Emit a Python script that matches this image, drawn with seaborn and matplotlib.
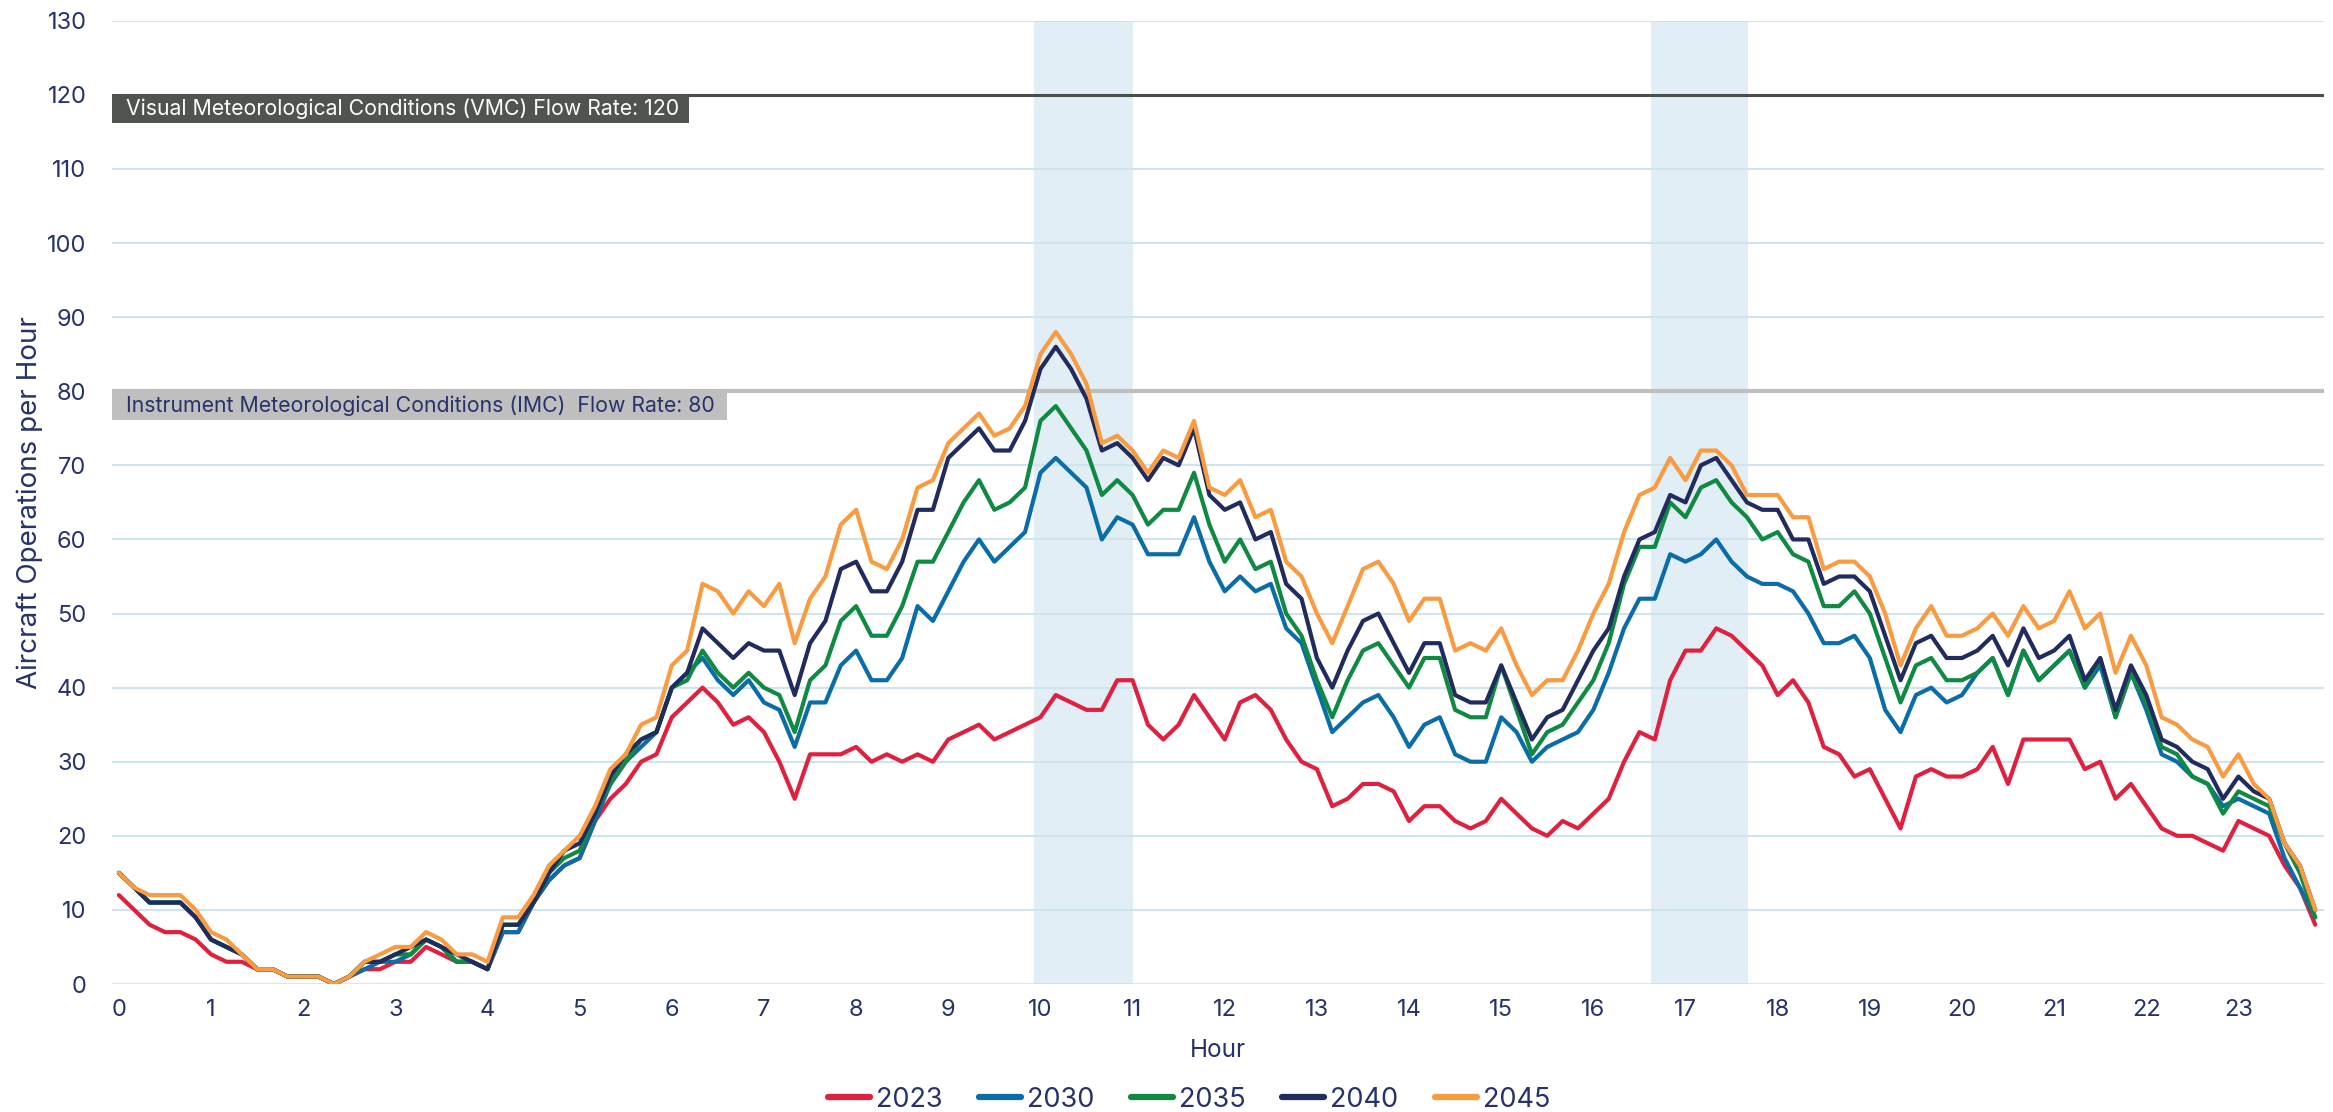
import pandas as pd
import seaborn as sns
import matplotlib.pyplot as plt

# ======================= данные: 10-минутные интервалы ======================= #

years = ['2023', '2030', '2035', '2040', '2045']
colors = ['#E0203F', '#0B6DA8', '#108A43', '#212B5E', '#F99B40']

ops_2023 = [12, 10, 8, 7, 7, 6,   4, 3, 3, 2, 2, 1,   1, 1, 0, 1, 2, 2,   3, 3, 5, 4, 3, 3,
            2, 7, 7, 11, 14, 16,   17, 22, 25, 27, 30, 31,   36, 38, 40, 38, 35, 36,   34, 30, 25, 31, 31, 31,
            32, 30, 31, 30, 31, 30,   33, 34, 35, 33, 34, 35,   36, 39, 38, 37, 37, 41,   41, 35, 33, 35, 39, 36,
            33, 38, 39, 37, 33, 30,   29, 24, 25, 27, 27, 26,   22, 24, 24, 22, 21, 22,   25, 23, 21, 20, 22, 21,
            23, 25, 30, 34, 33, 41,   45, 45, 48, 47, 45, 43,   39, 41, 38, 32, 31, 28,   29, 25, 21, 28, 29, 28,
            28, 29, 32, 27, 33, 33,   33, 33, 29, 30, 25, 27,   24, 21, 20, 20, 19, 18,   22, 21, 20, 16, 13, 8]

ops_2030 = [15, 13, 11, 11, 11, 9,   6, 5, 4, 2, 2, 1,   1, 1, 0, 1, 2, 3,   3, 4, 6, 5, 3, 3,
            2, 7, 7, 11, 14, 16,   17, 22, 27, 30, 32, 34,   40, 42, 44, 41, 39, 41,   38, 37, 32, 38, 38, 43,
            45, 41, 41, 44, 51, 49,   53, 57, 60, 57, 59, 61,   69, 71, 69, 67, 60, 63,   62, 58, 58, 58, 63, 57,
            53, 55, 53, 54, 48, 46,   40, 34, 36, 38, 39, 36,   32, 35, 36, 31, 30, 30,   36, 34, 30, 32, 33, 34,
            37, 42, 48, 52, 52, 58,   57, 58, 60, 57, 55, 54,   54, 53, 50, 46, 46, 47,   44, 37, 34, 39, 40, 38,
            39, 42, 44, 39, 45, 41,   43, 45, 40, 43, 36, 42,   37, 31, 30, 28, 27, 24,   25, 24, 23, 17, 13, 9]

ops_2035 = [15, 13, 11, 11, 11, 9,   6, 5, 4, 2, 2, 1,   1, 1, 0, 1, 3, 3,   4, 4, 6, 5, 3, 3,
            2, 8, 8, 11, 15, 17,   18, 23, 27, 30, 33, 34,   40, 41, 45, 42, 40, 42,   40, 39, 34, 41, 43, 49,
            51, 47, 47, 51, 57, 57,   61, 65, 68, 64, 65, 67,   76, 78, 75, 72, 66, 68,   66, 62, 64, 64, 69, 62,
            57, 60, 56, 57, 50, 47,   41, 36, 41, 45, 46, 43,   40, 44, 44, 37, 36, 36,   43, 37, 31, 34, 35, 38,
            41, 46, 54, 59, 59, 65,   63, 67, 68, 65, 63, 60,   61, 58, 57, 51, 51, 53,   50, 44, 38, 43, 44, 41,
            41, 42, 44, 39, 45, 41,   43, 45, 40, 44, 36, 42,   38, 32, 31, 28, 27, 23,   26, 25, 24, 19, 15, 9]

ops_2040 = [15, 13, 11, 11, 11, 9,   6, 5, 4, 2, 2, 1,   1, 1, 0, 1, 3, 3,   4, 5, 6, 5, 4, 3,
            2, 8, 8, 11, 15, 18,   19, 23, 28, 31, 33, 34,   40, 42, 48, 46, 44, 46,   45, 45, 39, 46, 49, 56,
            57, 53, 53, 57, 64, 64,   71, 73, 75, 72, 72, 76,   83, 86, 83, 79, 72, 73,   71, 68, 71, 70, 75, 66,
            64, 65, 60, 61, 54, 52,   44, 40, 45, 49, 50, 46,   42, 46, 46, 39, 38, 38,   43, 38, 33, 36, 37, 41,
            45, 48, 55, 60, 61, 66,   65, 70, 71, 68, 65, 64,   64, 60, 60, 54, 55, 55,   53, 47, 41, 46, 47, 44,
            44, 45, 47, 43, 48, 44,   45, 47, 41, 44, 37, 43,   39, 33, 32, 30, 29, 25,   28, 26, 25, 19, 16, 10]

ops_2045 = [15, 13, 12, 12, 12, 10,   7, 6, 4, 2, 2, 1,   1, 1, 0, 1, 3, 4,   5, 5, 7, 6, 4, 4,
            3, 9, 9, 12, 16, 18,   20, 24, 29, 31, 35, 36,   43, 45, 54, 53, 50, 53,   51, 54, 46, 52, 55, 62,
            64, 57, 56, 60, 67, 68,   73, 75, 77, 74, 75, 78,   85, 88, 85, 81, 73, 74,   72, 69, 72, 71, 76, 67,
            66, 68, 63, 64, 57, 55,   50, 46, 51, 56, 57, 54,   49, 52, 52, 45, 46, 45,   48, 43, 39, 41, 41, 45,
            50, 54, 61, 66, 67, 71,   68, 72, 72, 70, 66, 66,   66, 63, 63, 56, 57, 57,   55, 50, 43, 48, 51, 47,
            47, 48, 50, 47, 51, 48,   49, 53, 48, 50, 42, 47,   43, 36, 35, 33, 32, 28,   31, 27, 25, 19, 16, 10]

slot_hours = [i / 6 for i in range(144)]
hour_ticks = list(range(24))
ops_ticks = list(range(0, 131, 10))

peak_windows = [(9.93, 11.0), (16.63, 17.68)]
vmc_rate = 120
imc_rate = 80
vmc_label = 'Visual Meteorological Conditions (VMC) Flow Rate: 120'
imc_label = 'Instrument Meteorological Conditions (IMC)  Flow Rate: 80'

series = [ops_2023, ops_2030, ops_2035, ops_2040, ops_2045]
df = pd.concat([pd.DataFrame({'Hour': slot_hours, 'Ops': vals, 'Year': yr})
                for yr, vals in zip(years, series)], ignore_index=True)

# ============================ оформление ============================ #

sns.set_theme(style='white')
plt.rcParams['font.family'] = ['Inter', 'DejaVu Sans']
text_color = '#27326A'

fig = plt.figure(figsize=(23.33, 11.12), dpi=100)
ax = fig.add_axes([0.0478, 0.1151, 0.9484, 0.8662])

for x0, x1 in peak_windows:
    ax.axvspan(x0, x1, color='#E1EEF5', lw=0, zorder=0.2)

for v in ops_ticks[1:]:
    ax.axhline(v, color='#CFE5EE', lw=1.5, zorder=0.3)
ax.axhline(0, color='#D6DAEE', lw=1.8, zorder=0.3)

sns.lineplot(data=df, x='Hour', y='Ops', hue='Year', palette=colors,
             linewidth=3.0, ax=ax, zorder=3)

# пропускная способность
ax.axhline(vmc_rate, color='#4A4F4B', lw=2.2, zorder=2)
ax.axhline(imc_rate, color='#BFBFBF', lw=3.0, zorder=2)
ax.axhspan(vmc_rate - 3.8, vmc_rate, xmin=0, xmax=0.261, color='#4F544F', lw=0, zorder=2.5)
ax.axhspan(imc_rate - 3.85, imc_rate, xmin=0, xmax=0.278, color='#BFBFBF', lw=0, zorder=2.5)
ax.text(0.0067, vmc_rate - 1.9, vmc_label, transform=ax.get_yaxis_transform(),
        color='white', fontsize=15.3, va='center', ha='left', zorder=4)
ax.text(0.0067, imc_rate - 1.9, imc_label, transform=ax.get_yaxis_transform(),
        color=text_color, fontsize=15.3, va='center', ha='left', zorder=4)

ax.set_xlim(-0.08, 23.93)
ax.set_ylim(0, 130)
ax.set_xticks(hour_ticks)
ax.set_yticks(ops_ticks)
ax.tick_params(axis='both', length=0, labelsize=17, colors=text_color)
ax.tick_params(axis='x', pad=11)
ax.tick_params(axis='y', pad=18)
for s in ax.spines.values():
    s.set_visible(False)

ax.set_xlabel('Hour', fontsize=17.5, color=text_color, labelpad=13)
ax.set_ylabel('Aircraft Operations per Hour', fontsize=20, color=text_color)
ax.yaxis.set_label_coords(-0.031, 0.5)

ax.legend(loc='center', bbox_to_anchor=(0.487, -0.12), ncol=5, frameon=False,
          fontsize=19.5, handlelength=1.55, handletextpad=0.22, columnspacing=1.35,
          labelcolor=text_color)
for line in ax.get_legend().get_lines():
    line.set_linewidth(4.5)

fig.savefig('out.png', dpi=100)
